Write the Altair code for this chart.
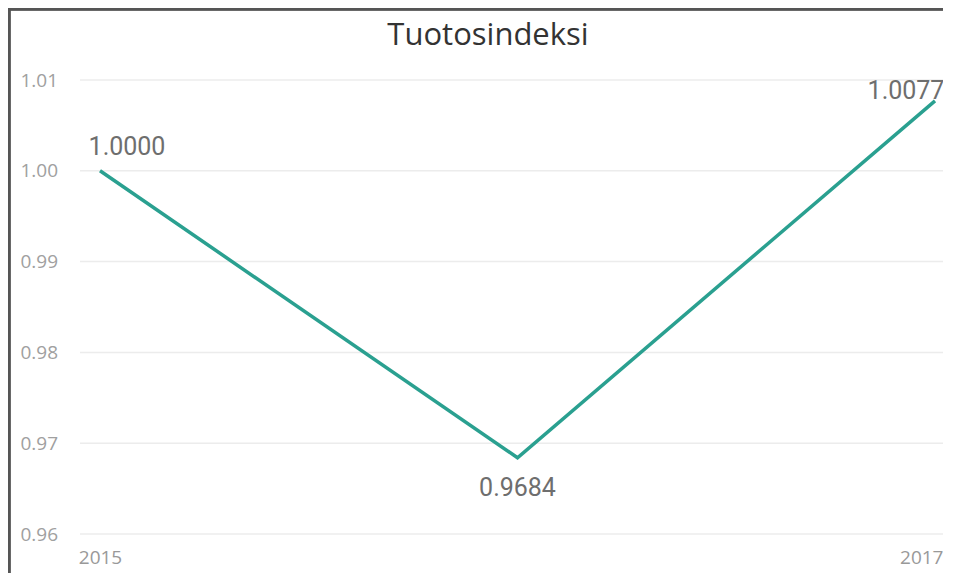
import altair as alt
import pandas as pd

years = [2015, 2016, 2017]
values = [1.0000, 0.9684, 1.0077]
labels = ["1.0000", "0.9684", "1.0077"]
y_ticks = [0.96, 0.97, 0.98, 0.99, 1.00, 1.01]
title_text = ["Tuotosindeksi"]

df = pd.DataFrame({"year": years, "value": values, "label": labels})
grid_df = pd.DataFrame({"tick": y_ticks})
title_df = pd.DataFrame({"t": title_text})

# label offsets (style only), keyed by year
label_offsets = {2015: (27, -24), 2016: (0, 30), 2017: (-29, -10)}

W, H = 935, 565
xscale = alt.Scale(domain=[2015, 2017], range=[92, 927])
yscale = alt.Scale(domain=[0.96, 1.01], range=[526, 72], zero=False, nice=False)

grid = alt.Chart(grid_df).mark_rule(color="#ececec", strokeWidth=1.5).encode(
    y=alt.Y("tick:Q", scale=yscale,
            axis=alt.Axis(values=y_ticks, format=".2f", grid=False, domain=False,
                          ticks=False, tickSize=0, labelPadding=0, offset=-12,
                          labelAlign="left", labelBaseline="middle",
                          labelColor="#a0a0a0", labelFontSize=19,
                          labelFont="Open Sans", title=None)),
    x=alt.value(72),
    x2=alt.value(W),
)

line = alt.Chart(df).mark_line(color="#2aa090", strokeWidth=3.5).encode(
    x=alt.X("year:Q", scale=xscale,
            axis=alt.Axis(values=years, format="d", grid=False, domain=False,
                          ticks=False, tickSize=0, labelPadding=0, offset=-16,
                          labelBaseline="middle", labelFlush=False,
                          labelAlign={"condition": {"test": "datum.value == 2017", "value": "right"},
                                      "value": "center"},
                          labelOffset={"condition": {"test": "datum.value == 2017", "value": 8},
                                       "value": 0},
                          labelColor="#999999", labelFontSize=19,
                          labelFont="Open Sans", title=None)),
    y=alt.Y("value:Q", scale=yscale),
)

texts = []
for yr, (dx, dy) in label_offsets.items():
    texts.append(
        alt.Chart(df).transform_filter(alt.datum.year == yr).mark_text(
            dx=dx, dy=dy, font="Roboto", fontSize=25, color="#6e6e6e",
            baseline="middle", align="center"
        ).encode(
            x=alt.X("year:Q", scale=xscale),
            y=alt.Y("value:Q", scale=yscale),
            text="label:N",
        )
    )

title = alt.Chart(title_df).mark_text(
    font="Open Sans", fontSize=31, color="#333333", align="center",
    baseline="alphabetic"
).encode(x=alt.value(480), y=alt.value(37), text="t:N")

border_left = alt.Chart(df).mark_rule(color="#555555", strokeWidth=3).encode(
    x=alt.value(1), y=alt.value(0), y2=alt.value(H)
)
border_top = alt.Chart(df).mark_rule(color="#555555", strokeWidth=3).encode(
    x=alt.value(0), x2=alt.value(W), y=alt.value(1)
)

chart = alt.layer(grid, line, *texts, title, border_left, border_top).properties(
    width=W, height=H,
    autosize=alt.AutoSizeParams(type="none"),
    padding=0,
).configure_view(stroke=None)

chart.save("out.html", embed_options={"renderer": "svg", "actions": False})
